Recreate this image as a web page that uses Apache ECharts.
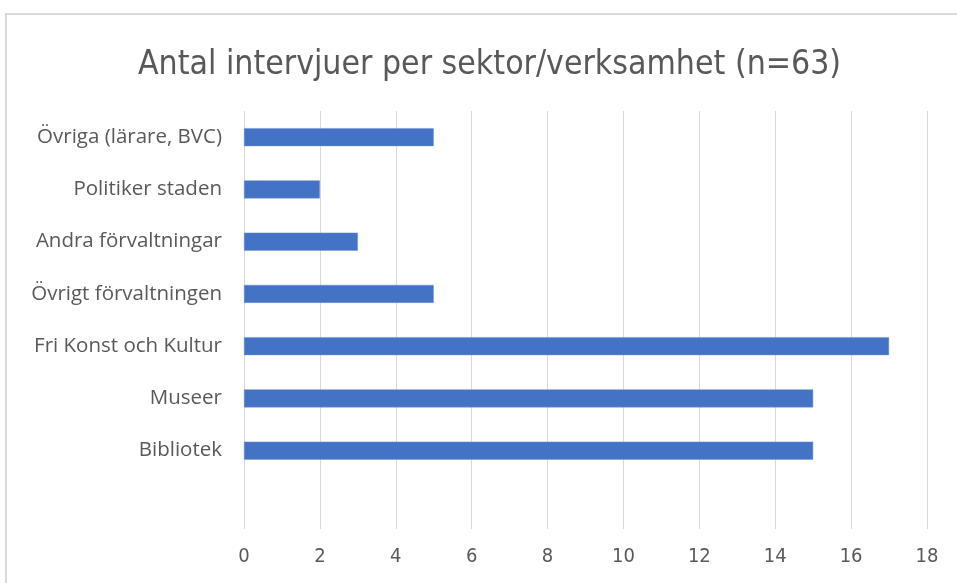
<!DOCTYPE html>
<html>
<head>
<meta charset="utf-8">
<script src="https://cdn.jsdelivr.net/npm/echarts@6/dist/echarts.min.js"></script>
<style>
  html, body { margin: 0; padding: 0; background: #fff; }
  #chart { width: 957px; height: 583px; }
</style>
</head>
<body>
<div id="chart"></div>
<script>
// kategorier nerifrån och upp (första tom, som i originalet)
var sektorer = ['', 'Bibliotek', 'Museer', 'Fri Konst och Kultur', 'Övrigt förvaltningen',
  'Andra förvaltningar', 'Politiker staden', 'Övriga (lärare, BVC)'];
var antal = [null, 15, 15, 17, 5, 3, 2, 5];
var xTicks = [0, 2, 4, 6, 8, 10, 12, 14, 16, 18];

var font = '"Liberation Sans Narrow", "DejaVu Sans Condensed", "Noto Sans", sans-serif';
var labelFont = '"Open Sans", "Noto Sans", sans-serif';
var myChart = echarts.init(document.getElementById('chart'));

myChart.setOption({
  animation: false,
  textStyle: { fontFamily: font },
  title: {
    text: 'Antal intervjuer per sektor/verksamhet (n=63)',
    left: 133,
    top: 43,
    textStyle: { fontFamily: font, fontSize: 33.5, fontWeight: 'normal', color: '#595959' }
  },
  // ramen runt diagrammet
  graphic: [{
    type: 'rect',
    shape: { x: 6, y: 14, width: 1000, height: 700 },
    style: { fill: 'none', stroke: '#d9d9d9', lineWidth: 2 },
    silent: true
  }],
  grid: { left: 244, right: 30, top: 111, bottom: 54, containLabel: false },
  xAxis: {
    type: 'value',
    min: xTicks[0],
    max: xTicks[xTicks.length - 1],
    interval: 2,
    axisLine: { show: false },
    axisTick: { show: false },
    splitLine: { lineStyle: { color: '#d9d9d9', width: 1 } },
    axisLabel: { color: '#595959', fontSize: 20, margin: 18, fontFamily: font }
  },
  yAxis: {
    type: 'category',
    data: sektorer,
    axisLine: { show: false },
    axisTick: { show: false },
    axisLabel: { color: '#595959', fontSize: 20.5, margin: 22, fontFamily: labelFont }
  },
  series: [{
    type: 'bar',
    data: antal,
    barWidth: 18,
    itemStyle: { color: '#4472C4', borderColor: '#6f93d4', borderWidth: 0.5 }
  }]
});
</script>
</body>
</html>
